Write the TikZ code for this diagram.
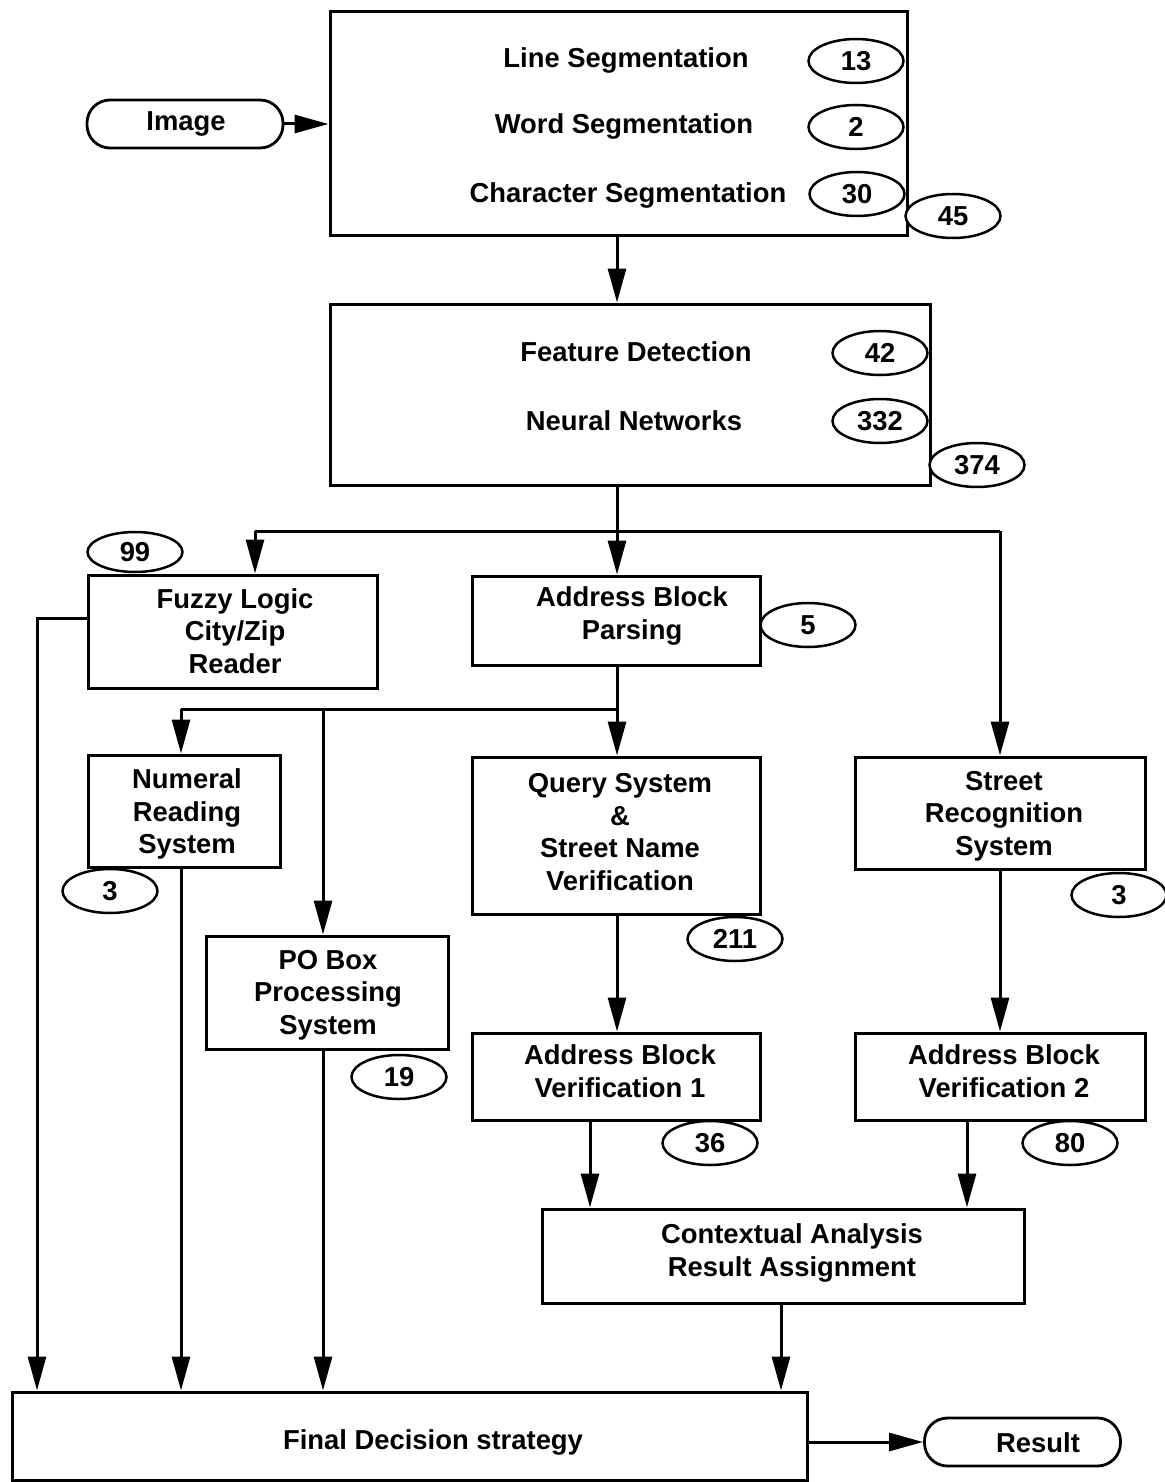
\documentclass[tikz,border=0pt]{standalone}
\usepackage{fontspec}
\setmainfont{Liberation Sans}
\usetikzlibrary{arrows.meta,shapes.geometric}
\begin{document}
\begin{tikzpicture}[x=0.5pt,y=-0.5pt,
  every node/.style={font=\fontsize{13.7}{16.3}\selectfont\bfseries},
  blk/.style 2 args={draw,line width=1.5pt,inner sep=0pt,minimum width=#1,minimum height=#2},
  pill/.style={draw,line width=1.4pt,rounded corners=11.5pt,minimum width=98pt,minimum height=24pt,inner sep=0pt},
  cnt/.style={draw,ellipse,line width=1.25pt,fill=white,inner sep=0pt,minimum width=47.5pt,minimum height=22pt},
  lbl/.style={align=center,inner sep=0pt},
  arr/.style={line width=1.5pt,-{Triangle[length=17pt,width=9pt]}},
  ln/.style={line width=1.5pt}
]
\useasboundingbox (0,0) rectangle (1165,1482);

% ---------- blocks ----------
\node[blk={288.5pt}{112pt}]   (top)   at (618.5,124) {};
\node[blk={300pt}{90.5pt}]    (feat)  at (630,394.5) {};
\node[blk={144.5pt}{56.5pt}]  (fuzzy) at (232.5,631.5) {};
\node[blk={144pt}{44.5pt}]    (abp)   at (616,620.5) {};
\node[blk={96pt}{56pt}]       (num)   at (184,811) {};
\node[blk={121pt}{56.5pt}]    (pob)   at (327,992.5) {};
\node[blk={144pt}{78.5pt}]    (query) at (616,835.5) {};
\node[blk={145pt}{56pt}]      (street) at (1000,813) {};
\node[blk={144pt}{43.5pt}]    (abv1)  at (616,1076.5) {};
\node[blk={145pt}{43.5pt}]    (abv2)  at (1000,1076.5) {};
\node[blk={241pt}{47pt}]      (ctx)   at (783,1256) {};
\node[blk={397.5pt}{44pt}]    (final) at (409.5,1436) {};

\node[pill] (img) at (185,124) {};
\node[pill] (res) at (1022.5,1442) {};

% ---------- block texts ----------
\node[lbl] (t-line) at (626,60)  {Line Segmentation};
\node[lbl] (t-word) at (624,126) {Word Segmentation};
\node[lbl] (t-char) at (628,195) {Character Segmentation};
\node[lbl] (t-feat) at (636,352) {Feature Detection};
\node[lbl] (t-nn)   at (634,421) {Neural Networks};
\node[lbl] (t-fuzzy) at (235,631) {Fuzzy Logic\\City/Zip\\Reader};
\node[lbl] (t-abp)  at (632,616) {Address Block\\Parsing};
\node[lbl] (t-num)  at (187,814) {Numeral\\Reading\\System};
\node[lbl] (t-pob)  at (328,995) {PO Box\\Processing\\System};
\node[lbl] (t-query) at (620,832) {Query System\\\&\\Street Name\\Verification};
\node[lbl] (t-street) at (1004,816) {Street\\Recognition\\System};
\node[lbl] (t-abv1) at (620,1071) {Address Block\\Verification 1};
\node[lbl] (t-abv2) at (1004,1071) {Address Block\\Verification 2};
\node[lbl] (t-ctx)  at (792,1253) {Contextual Analysis\\Result Assignment};
\node[lbl] (t-final) at (433,1442) {Final Decision strategy};
\node[lbl] (t-img)  at (186,124) {Image};
\node[lbl] (t-res)  at (1038,1443) {Result};

% ---------- junction points ----------
\coordinate (jA) at (617,531);
\coordinate (jL) at (255,531);
\coordinate (jR) at (1000,531);
\coordinate (jB) at (617,709);
\coordinate (jN) at (181,709);
\coordinate (jP) at (323,709);
\coordinate (fL) at (37,618);
\coordinate (xC1) at (590,0);
\coordinate (xC2) at (967,0);
\coordinate (xCo) at (781,0);

% ---------- connectors ----------
\draw[arr] (img.east) -- (img.east -| top.west);
\draw[arr] (top.south -| jA) -- (feat.north -| jA);
\draw[arr] (feat.south -| jA) -- (abp.north -| jA);
\draw[ln] (jL) -- (jR);
\draw[arr] (jL) -- (jL |- fuzzy.north);
\draw[arr] (jR) -- (jR |- street.north);
\draw[arr] (fuzzy.west |- fL) -- (fL) -- (fL |- final.north);
\draw[arr] (abp.south -| jB) -- (query.north -| jB);
\draw[ln] (jN) -- (jB);
\draw[arr] (jN) -- (jN |- num.north);
\draw[arr] (jP) -- (jP |- pob.north);
\draw[arr] (num.south -| jN) -- (final.north -| jN);
\draw[arr] (pob.south -| jP) -- (final.north -| jP);
\draw[arr] (query.south -| jB) -- (abv1.north -| jB);
\draw[arr] (street.south -| jR) -- (abv2.north -| jR);
\draw[arr] (abv1.south -| xC1) -- (ctx.north -| xC1);
\draw[arr] (abv2.south -| xC2) -- (ctx.north -| xC2);
\draw[arr] (ctx.south -| xCo) -- (final.north -| xCo);
\draw[arr] (final.east |- res.west) -- (res.west);

% ---------- counts ----------
\node[cnt] (c13)  at (856,61)   {13};
\node[cnt] (c2)   at (856,127)  {2};
\node[cnt] (c30)  at (857,194)  {30};
\node[cnt] (c45)  at (953,216)  {45};
\node[cnt] (c42)  at (880,353)  {42};
\node[cnt] (c332) at (880,421)  {332};
\node[cnt] (c374) at (977,465)  {374};
\node[cnt,minimum height=20pt] (c99) at (135,552) {99};
\node[cnt] (c5)   at (808,625)  {5};
\node[cnt] (c3a)  at (110,891)  {3};
\node[cnt] (c211) at (735,939)  {211};
\node[cnt] (c19)  at (399,1077) {19};
\node[cnt] (c36)  at (710,1143) {36};
\node[cnt] (c3b)  at (1119,895) {3};
\node[cnt] (c80)  at (1070,1143) {80};
\end{tikzpicture}
\end{document}
